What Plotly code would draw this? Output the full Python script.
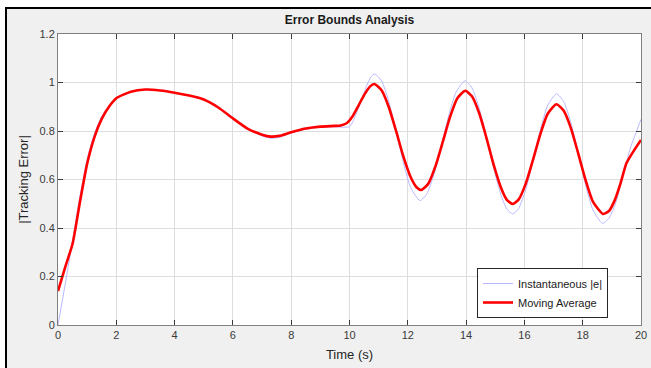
import plotly.graph_objects as go

# ---- data ----
t_inst = [0, 0.25, 0.5, 0.75, 1.0, 1.25, 1.5, 1.75, 2.0, 2.5, 3.0, 3.5, 4.0, 4.5, 5.0, 5.5,
          6.0, 6.5, 7.0, 7.3, 7.6, 8.0, 8.5, 9.0, 9.5, 10.0, 10.2, 10.4, 10.6, 10.75, 10.87,
          11.1, 11.35, 11.6, 11.85, 12.1, 12.42, 12.65, 12.9, 13.15, 13.4, 13.65, 13.96,
          14.2, 14.45, 14.7, 14.95, 15.2, 15.4, 15.6, 15.8, 16.05, 16.3, 16.55, 16.8, 17.1,
          17.35, 17.6, 17.85, 18.1, 18.35, 18.68, 18.9, 19.15, 19.4, 19.65, 19.85, 20.0]
e_inst = [0.0, 0.17, 0.35, 0.53, 0.685, 0.79, 0.86, 0.905, 0.937, 0.963, 0.972, 0.968, 0.958,
          0.947, 0.931, 0.897, 0.851, 0.809, 0.78, 0.77, 0.774, 0.792, 0.807, 0.815, 0.817,
          0.818, 0.862, 0.925, 0.99, 1.025, 1.035, 1.007, 0.921, 0.798, 0.669, 0.566, 0.513,
          0.54, 0.622, 0.74, 0.862, 0.959, 1.007, 0.978, 0.894, 0.774, 0.645, 0.535, 0.478,
          0.458, 0.48, 0.56, 0.68, 0.806, 0.906, 0.953, 0.921, 0.832, 0.707, 0.578, 0.475,
          0.419, 0.44, 0.51, 0.625, 0.735, 0.80, 0.848]

t_avg = [0, 0.25, 0.5, 0.75, 1.0, 1.25, 1.5, 1.75, 2.0, 2.5, 3.0, 3.5, 4.0, 4.5, 5.0, 5.5,
         6.0, 6.5, 7.0, 7.3, 7.6, 8.0, 8.5, 9.0, 9.5, 9.7, 9.9, 10.1, 10.3, 10.5, 10.7, 10.85,
         11.1, 11.35, 11.6, 11.85, 12.1, 12.3, 12.46, 12.7, 12.95, 13.2, 13.45, 13.7, 13.97,
         14.2, 14.45, 14.7, 14.95, 15.2, 15.4, 15.6, 15.8, 16.05, 16.3, 16.55, 16.8, 17.1,
         17.35, 17.6, 17.85, 18.1, 18.35, 18.7, 18.9, 19.1, 19.3, 19.5, 19.75, 20.0]
e_avg = [0.14, 0.24, 0.335, 0.505, 0.665, 0.775, 0.85, 0.9, 0.935, 0.962, 0.971, 0.967, 0.958,
         0.946, 0.93, 0.897, 0.852, 0.81, 0.785, 0.777, 0.78, 0.795, 0.81, 0.818, 0.821, 0.823,
         0.832, 0.86, 0.903, 0.948, 0.983, 0.994, 0.968, 0.898, 0.799, 0.694, 0.609, 0.568,
         0.557, 0.582, 0.655, 0.755, 0.858, 0.935, 0.966, 0.943, 0.873, 0.771, 0.659, 0.565,
         0.516, 0.499, 0.517, 0.584, 0.683, 0.788, 0.871, 0.91, 0.883, 0.81, 0.706, 0.597,
         0.509, 0.458, 0.47, 0.515, 0.585, 0.667, 0.718, 0.763]

x_ticks = [0, 2, 4, 6, 8, 10, 12, 14, 16, 18, 20]
x_tick_labels = ["0", "2", "4", "6", "8", "10", "12", "14", "16", "18", "20"]
y_ticks = [0, 0.2, 0.4, 0.6, 0.8, 1.0, 1.2]
y_tick_labels = ["0", "0.2", "0.4", "0.6", "0.8", "1", "1.2"]

# ---- geometry ----
W, H = 651, 368
L, R, T, B = 58, 10, 34, 43
pw, ph = W - L - R, H - T - B


def px(p):
    return (p - L) / pw


def py(p):
    return (H - B - p) / ph


FONT = "Liberation Sans, Arial, sans-serif"

fig = go.Figure()
fig.add_trace(go.Scatter(x=t_inst, y=e_inst, mode="lines", name="Instantaneous |e|",
                         line=dict(color="#b8b8ff", width=1, shape="spline", smoothing=0.6)))
fig.add_trace(go.Scatter(x=t_avg, y=e_avg, mode="lines", name="Moving Average",
                         line=dict(color="#ff0000", width=2.6, shape="spline", smoothing=0.6)))

axis_common = dict(showline=True, linecolor="#7f7f7f", linewidth=1, mirror="all",
                   ticks="inside", ticklen=5, tickcolor="#3a3a3a", showgrid=True,
                   gridcolor="#dedede", gridwidth=1, zeroline=False, automargin=False,
                   tickfont=dict(family=FONT, size=11, color="#3a3a3a"))

fig.update_xaxes(range=[0, 20], tickvals=x_ticks, ticktext=x_tick_labels,
                 title=dict(text="Time (s)", font=dict(family=FONT, size=13, color="#262626"),
                            standoff=9),
                 **axis_common)
fig.update_yaxes(range=[0, 1.2], tickvals=y_ticks, ticktext=y_tick_labels,
                 title=dict(text="|Tracking Error|", font=dict(family=FONT, size=13, color="#262626"),
                            standoff=7),
                 **axis_common)

shapes = [
    dict(type="rect", xref="paper", yref="paper", x0=px(0), x1=px(W), y0=py(0), y1=py(7),
         fillcolor="white", line=dict(width=0), layer="above"),
    dict(type="rect", xref="paper", yref="paper", x0=px(0), x1=px(5), y0=py(0), y1=py(H),
         fillcolor="white", line=dict(width=0), layer="above"),
    dict(type="rect", xref="paper", yref="paper", x0=px(5), x1=px(W), y0=py(7), y1=py(9),
         fillcolor="black", line=dict(width=0), layer="above"),
    dict(type="rect", xref="paper", yref="paper", x0=px(5), x1=px(7), y0=py(7), y1=py(H),
         fillcolor="black", line=dict(width=0), layer="above"),
]

fig.update_layout(
    width=W, height=H,
    margin=dict(l=L, r=R, t=T, b=B, autoexpand=False),
    paper_bgcolor="#f0f0f0", plot_bgcolor="white",
    title=dict(text="<b>Error Bounds Analysis</b>", x=px(L + pw / 2), xref="paper",
               xanchor="center", y=1 - 20 / H, yref="container", yanchor="middle",
               font=dict(family=FONT, size=12, color="#1a1a1a")),
    legend=dict(x=px(608), xanchor="right", y=py(318), yanchor="bottom",
                bgcolor="white", bordercolor="#262626", borderwidth=1,
                font=dict(family=FONT, size=11, color="#1a1a1a"),
                tracegroupgap=0, itemwidth=30),
    shapes=shapes,
    showlegend=True,
)

fig.write_html("out.html", config={"displayModeBar": False},
               post_script="document.body.style.margin='0';document.body.style.overflow='hidden';")
